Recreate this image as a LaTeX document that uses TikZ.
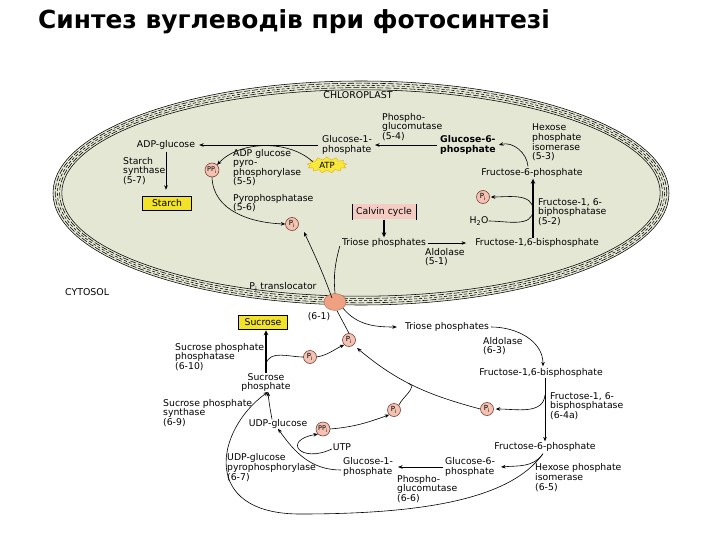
\documentclass[tikz,border=0pt]{standalone}
\usepackage{fontspec}
\setmainfont{DejaVu Sans}
\usetikzlibrary{arrows.meta,shapes.geometric,shapes.symbols,calc}
\definecolor{chlfill}{RGB}{229,231,213}
\definecolor{pifill}{RGB}{242,194,178}
\definecolor{pidraw}{RGB}{110,40,30}
\definecolor{trfill}{RGB}{238,160,128}
\definecolor{yel}{RGB}{242,226,40}
\definecolor{calv}{RGB}{244,204,196}
\definecolor{atpy}{RGB}{248,232,60}
\definecolor{atpd}{RGB}{225,175,20}
\newcommand\mylbl{\fontsize{9.3}{9.6}\selectfont}
\newcommand\mycaps{\fontsize{9.4}{10}\selectfont}
\begin{document}
\begin{tikzpicture}[x=1pt,y=-1pt,
  lbl/.style={inner sep=0pt, align=left, font=\mylbl, anchor=west},
  pinode/.style={circle, draw=pidraw, fill=pifill, line width=0.5pt, inner sep=0pt, minimum size=13pt, font=\fontsize{7}{7}\selectfont},
  ppnode/.style={pinode, minimum size=14pt, font=\fontsize{6.5}{7}\selectfont},
  ybox/.style={draw, line width=0.5pt, fill=yel, minimum width=49pt, minimum height=14pt, inner sep=1pt, font=\mylbl},
  calvbox/.style={fill=calv, minimum width=64pt, minimum height=15pt, inner sep=1pt, font=\mylbl},
  transl/.style={ellipse, fill=trfill, draw=trfill!70!black, line width=0.4pt, minimum width=22pt, minimum height=17pt, inner sep=0pt},
  atpburst/.style={starburst, starburst points=13, starburst point height=3pt, random starburst=0, fill=atpy, draw=atpd, line width=0.4pt, inner sep=0.5pt, minimum width=40pt, minimum height=10pt, font=\fontsize{8.5}{9}\selectfont},
  arr/.style={-{Stealth[length=4.5pt,width=3.6pt]}, line width=0.6pt},
  tarr/.style={-{Stealth[length=5pt,width=4.6pt]}, line width=1.4pt},
  ln/.style={line width=0.6pt},
  mem/.style={line width=0.55pt}]
\fill[white] (0,0) rectangle (720,540);
\useasboundingbox (0,0) rectangle (720,540);

% title
\node[anchor=base west, inner sep=0pt, font=\fontsize{24.9}{28}\selectfont\bfseries] (title) at (38,29) {Синтез вуглеводів при фотосинтезі};

% chloroplast
\fill[chlfill] (361,193) ellipse [x radius=308pt, y radius=112pt];
\draw[mem] (361,193) ellipse [x radius=308pt, y radius=112pt];
\draw[mem, dash pattern=on 6pt off 2pt] (361,193) ellipse [x radius=305.8pt, y radius=109.8pt];
\draw[mem, dash pattern=on 3pt off 2pt, dash phase=2pt] (361,193) ellipse [x radius=303.6pt, y radius=107.6pt];
\draw[mem, dash pattern=on 6pt off 2pt, dash phase=4pt] (361,193) ellipse [x radius=301.4pt, y radius=105.4pt];
\draw[mem] (361,193) ellipse [x radius=299.2pt, y radius=103.2pt];

\node[lbl, anchor=center, font=\mycaps] (chl) at (358,95) {CHLOROPLAST};
\node[lbl, anchor=center] (adpg) at (166,145) {ADP-glucose};
\node[lbl] (g1p) at (322,145) {Glucose-1-\\phosphate};
\node[lbl] (pgm) at (382,127) {Phospho-\\glucomutase\\(5-4)};
\node[lbl, font={\mylbl\bfseries}] (g6p) at (440,145) {Glucose-6-\\phosphate};
\node[lbl] (hpi) at (532,142.5) {Hexose\\phosphate\\isomerase\\(5-3)};
\node[lbl, anchor=center] (f6p) at (532,173) {Fructose-6-phosphate};
\node[lbl, anchor=center] (fbp) at (537,243) {Fructose-1,6-bisphosphate};
\node[lbl] (fbpase) at (538,212) {Fructose-1, 6-\\biphosphatase\\(5-2)};
\node[pinode] (pi1) at (483,197) {P\textsubscript{i}};
\node[lbl, anchor=center] (h2o) at (479,221) {H\textsubscript{2}O};
\node[calvbox] (calvin) at (384,212) {Calvin cycle};
\draw[line width=0.6pt] (calvin.north west) -- (calvin.south west);
\draw[line width=0.6pt] (calvin.north east) -- (calvin.south east);
\node[lbl, anchor=center] (tp) at (384,243) {Triose phosphates};
\node[lbl] (ald) at (425,257) {Aldolase\\(5-1)};
\node[lbl] (ssyn) at (123,171) {Starch\\synthase\\(5-7)};
\node[ybox] (starch) at (167,203) {Starch};
\node[ppnode] (ppi1) at (212,170) {PP\textsubscript{i}};
\node[atpburst] (atp) at (327,165) {ATP};
\node[lbl] (adpgpp) at (233,167.5) {ADP glucose\\pyro-\\phosphorylase\\(5-5)};
\node[lbl] (ppase) at (233,203) {Pyrophosphatase\\(5-6)};
\node[pinode] (pi2) at (292,224) {P\textsubscript{i}};

% cytosol
\node[lbl, font=\mycaps] (cyt) at (65,292) {CYTOSOL};
\node[lbl, anchor=center] (trl) at (283,287) {P\textsubscript{i} translocator};
\node[transl] (trans) at (335,302) {};
\node[lbl, anchor=center] (n61) at (319,317) {(6-1)};
\node[ybox] (sucrose) at (263,322) {Sucrose};
\node[lbl, anchor=center] (tp2) at (447,327) {Triose phosphates};
\node[lbl] (ald2) at (483,346) {Aldolase\\(6-3)};
\node[lbl, anchor=center] (fbp2) at (541,373) {Fructose-1,6-bisphosphate};
\node[lbl] (fbpase2) at (550,406) {Fructose-1, 6-\\bisphosphatase\\(6-4a)};
\node[pinode] (pi3) at (487,409) {P\textsubscript{i}};
\node[lbl, anchor=center] (f6p2) at (545,447) {Fructose-6-phosphate};
\node[lbl] (hpi2) at (535,477.5) {Hexose phosphate\\isomerase\\(6-5)};
\node[lbl] (g6p2) at (445,467) {Glucose-6-\\phosphate};
\node[lbl] (g1p2) at (343,467) {Glucose-1-\\phosphate};
\node[lbl] (pgm2) at (397,489) {Phospho-\\glucomutase\\(6-6)};
\node[lbl] (udpgpp) at (227,467.5) {UDP-glucose\\pyrophosphorylase\\(6-7)};
\node[lbl, anchor=center] (utp) at (342,447) {UTP};
\node[lbl, anchor=center] (udpg) at (278,424) {UDP-glucose};
\node[ppnode] (ppi2) at (323,429) {PP\textsubscript{i}};
\node[pinode] (pi4) at (394,410) {P\textsubscript{i}};
\node[lbl, align=center, anchor=center] (sp) at (266,382.5) {Sucrose\\phosphate};
\node[lbl] (sps) at (163,413) {Sucrose phosphate\\synthase\\(6-9)};
\node[lbl] (spp) at (175,357) {Sucrose phosphate\\phosphatase\\(6-10)};
\node[pinode] (pi5) at (310,357) {P\textsubscript{i}};
\node[pinode] (pi6) at (349,340) {P\textsubscript{i}};

% connectors: chloroplast
\draw[arr] ([xshift=-4pt]g1p.west) -- ([xshift=4pt]adpg.east);
\draw[arr] ([xshift=-3pt]g6p.west) -- ([xshift=3pt]g1p.east);
\draw[arr] ([xshift=-4pt,yshift=2pt]f6p.north) to[out=95,in=15] ([xshift=3pt]g6p.east);
\draw[tarr, shorten >=1pt] ([xshift=-4pt]fbp.north) -- ([xshift=-4pt]fbp.north |- f6p.south);
\coordinate (hk1) at (533,210);
\draw[arr] (h2o.east) to[out=0,in=-90] (hk1) to[out=90,in=0] ([xshift=1pt]pi1.east);
\draw[tarr] (calvin.south) -- ([yshift=1pt]tp.north);
\draw[arr] ([xshift=2pt]tp.east) -- ([xshift=-9pt]fbp.west);
\draw[arr, shorten <=2pt, shorten >=6pt] (adpg.south) -- (adpg.south |- starch.north);
\draw[arr] ([xshift=-14pt,yshift=3pt]atp.center) .. controls (290,140) and (240,140) .. (ppi1.north east);
\draw[arr] (ppi1.south) to[out=-88,in=178] (pi2.west);
\draw[arr] ([xshift=-3pt,yshift=4pt]trans.center) to[out=110,in=-65] ($(pi2.center)+(12,8)$);
\draw[ln] ([xshift=-2pt,yshift=-3pt]tp.west) to[out=-105,in=95] (trans.north);

% connectors: cytosol
\draw[arr] (trans.south east) to[out=-50,in=180] ([xshift=-8pt]tp2.west);
\draw[ln] (pi6.north) -- ([xshift=2pt]trans.south);
\draw[arr] ([xshift=2pt]tp2.east) to[out=0,in=90] ([xshift=2pt,yshift=2pt]fbp2.north);
\draw[arr, shorten >=1pt] ([xshift=4pt]fbp2.south) -- ([xshift=4pt]fbp2.south |- f6p2.north);
\coordinate (hk2) at (545,395);
\draw[arr] (hk2) to[out=-95,in=0] ([xshift=2pt]pi3.east);
\draw[arr] (pi3.west) to[out=165,in=-40] coordinate[pos=0.55] (mrg) ($(pi6.center)+(8,8)$);
\draw[ln] (pi4.north east) to[out=65,in=-25] (mrg);
\draw[arr] (pi5.east) to[out=10,in=-155] (pi6.south west);
\coordinate (br) at (266,364);
\draw[ln] (br) to[out=75,in=180] (pi5.west);
\draw[tarr, shorten >=1pt] (sp.north) -- (sp.north |- sucrose.south);
\draw[arr] ([xshift=-6pt]udpg.north) to[out=100,in=-85] ([xshift=2pt]sp.south);
\draw[arr] ([xshift=-2pt,yshift=-3pt]g1p2.west) to[out=180,in=-55] (udpg.south);
\draw[arr] ([xshift=-1pt,yshift=-2pt]utp.west) .. controls (300,464) and (282,440) .. (ppi2.south west);
\draw[arr] (ppi2.east) to[out=5,in=-160] (pi4.south west);
\coordinate (fs) at ([xshift=-2pt,yshift=-2pt]f6p2.south);
\draw[arr] (fs) to[out=-125,in=5] ([xshift=6pt]g6p2.east);
\draw[arr] ([xshift=-2pt]g6p2.west) -- ([xshift=5pt]g1p2.east);
\coordinate (low) at (300,514);
\draw[arr] (fs) .. controls (510,500) and (420,514) .. (low) .. controls (200,514) and (215,430) .. ([xshift=2pt]sp.south);
\end{tikzpicture}
\end{document}
